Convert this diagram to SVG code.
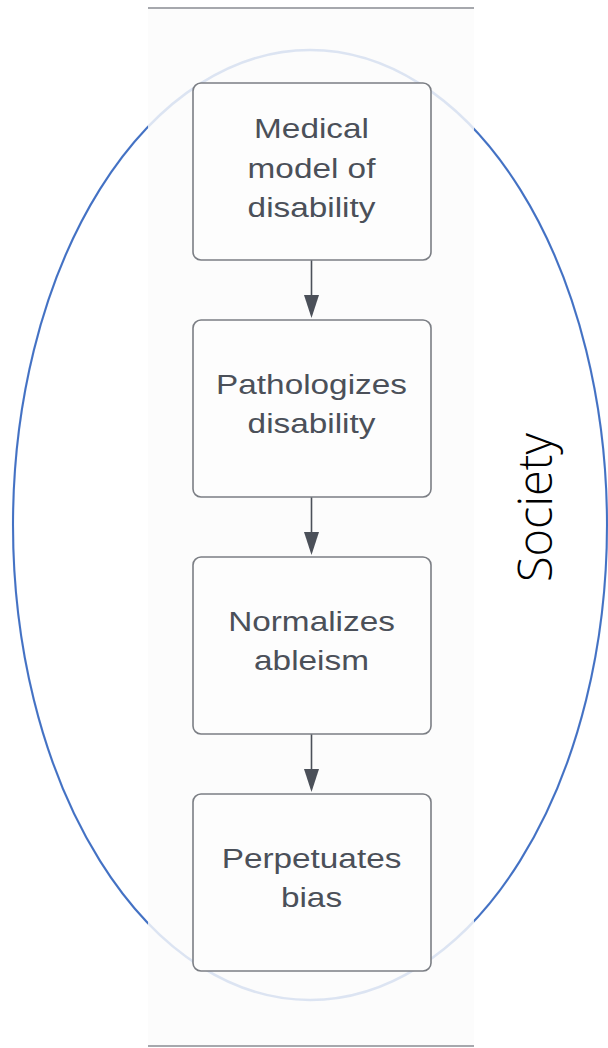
<svg xmlns="http://www.w3.org/2000/svg" width="608" height="1048" viewBox="0 0 608 1048">
<defs>
<style>
.box{fill:#fdfdfd;stroke:#7b7e84;stroke-width:1.6}
.lbl{font-family:"Liberation Sans",Arial,sans-serif;font-size:28.5px;fill:#4b5059;text-anchor:middle}
.conn{stroke:#4b5059;stroke-width:1.6;fill:none}
.ah{fill:#4b5059}
</style>
</defs>
<rect x="0" y="0" width="608" height="1048" fill="#ffffff"/>
<ellipse id="society-outer" cx="310" cy="525" rx="297" ry="475" fill="none" stroke="#4472c4" stroke-width="2"/>
<rect x="148" y="8" width="326" height="1038" fill="#fcfcfc"/>
<line x1="148" y1="8" x2="474" y2="8" stroke="#a6a8ad" stroke-width="2"/>
<line x1="148" y1="1046" x2="474" y2="1046" stroke="#a6a8ad" stroke-width="2"/>
<ellipse cx="310" cy="525" rx="297" ry="475" fill="none" stroke="#4472c4" stroke-opacity="0.17" stroke-width="2.5"/>
<g id="connectors">
<line class="conn" x1="311.5" y1="260" x2="311.5" y2="296"/>
<path class="ah" d="M304,295 L319,295 L311.5,318 Z"/>
<line class="conn" x1="311.5" y1="497" x2="311.5" y2="533"/>
<path class="ah" d="M304,532 L319,532 L311.5,555 Z"/>
<line class="conn" x1="311.5" y1="734" x2="311.5" y2="770"/>
<path class="ah" d="M304,769 L319,769 L311.5,792 Z"/>
</g>
<g id="node-medical">
<rect class="box" x="193" y="83" width="238" height="177" rx="8"/>
<text class="lbl" transform="translate(311.5 0) scale(1.17 1)"><tspan x="0" y="138.5">Medical</tspan><tspan x="0" y="178">model of</tspan><tspan x="0" y="217">disability</tspan></text>
</g>
<g id="node-pathologizes">
<rect class="box" x="193" y="320" width="238" height="177" rx="8"/>
<text class="lbl" transform="translate(311.5 0) scale(1.17 1)"><tspan x="0" y="394.5">Pathologizes</tspan><tspan x="0" y="433">disability</tspan></text>
</g>
<g id="node-normalizes">
<rect class="box" x="193" y="557" width="238" height="177" rx="8"/>
<text class="lbl" transform="translate(311.5 0) scale(1.17 1)"><tspan x="0" y="631.5">Normalizes</tspan><tspan x="0" y="670">ableism</tspan></text>
</g>
<g id="node-perpetuates">
<rect class="box" x="193" y="794" width="238" height="177" rx="8"/>
<text class="lbl" transform="translate(311.5 0) scale(1.17 1)"><tspan x="0" y="868.5">Perpetuates</tspan><tspan x="0" y="907">bias</tspan></text>
</g>
<g id="label-society">
<text x="0" y="0" transform="translate(551.5 507.5) rotate(-90)" font-family="'Open Sans','Noto Sans',sans-serif" font-weight="300" font-size="48" fill="#000000" text-anchor="middle" textLength="149" lengthAdjust="spacingAndGlyphs">Society</text>
</g>
</svg>
